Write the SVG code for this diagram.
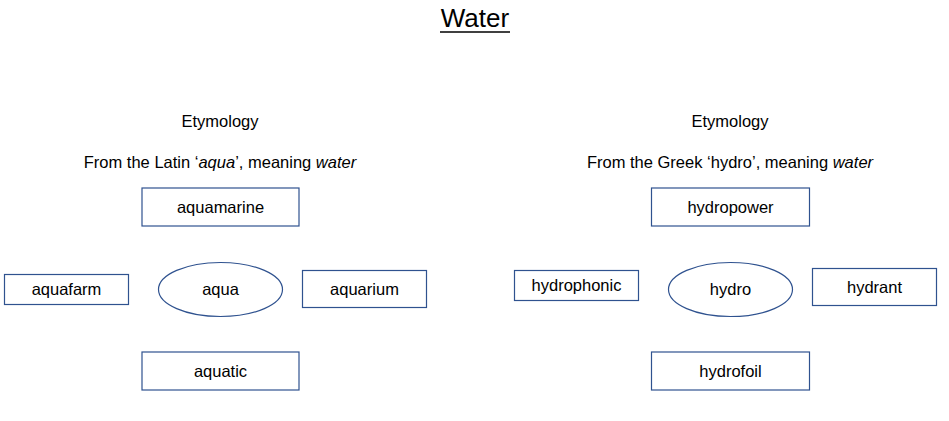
<svg xmlns="http://www.w3.org/2000/svg" width="949" height="421" viewBox="0 0 949 421">
<style>
text{font-family:"Liberation Sans",Arial,sans-serif;fill:#000;text-anchor:middle}
.lbl{font-size:16.5px}
.box{fill:#fff;stroke:#2F528F;stroke-width:1.2}
.title{font-size:26px}
</style>
<rect width="949" height="421" fill="#fff"/>
<g id="title">
<text class="title" x="475" y="27">Water</text>
<line x1="440" y1="32" x2="510" y2="32" stroke="#000" stroke-width="1.5"/>
</g>
<g id="left-heading">
<text class="lbl" x="220" y="127">Etymology</text>
<text class="lbl" x="220" y="168">From the Latin ‘<tspan font-style="italic">aqua</tspan>’, meaning <tspan font-style="italic">water</tspan></text>
</g>
<g id="right-heading">
<text class="lbl" x="730" y="127">Etymology</text>
<text class="lbl" x="730" y="168">From the Greek ‘hydro’, meaning <tspan font-style="italic">water</tspan></text>
</g>
<g id="connectors"></g>
<g id="aqua"><ellipse class="box" cx="220.5" cy="289.5" rx="62" ry="27"/><text class="lbl" x="220.5" y="295">aqua</text></g>
<g id="aquamarine"><rect class="box" x="142" y="188" width="157" height="38"/><text class="lbl" x="220.5" y="213">aquamarine</text></g>
<g id="aquafarm"><rect class="box" x="4.5" y="274.5" width="124" height="30"/><text class="lbl" x="66.5" y="295">aquafarm</text></g>
<g id="aquarium"><rect class="box" x="302.5" y="270.5" width="124" height="37"/><text class="lbl" x="364.5" y="295">aquarium</text></g>
<g id="aquatic"><rect class="box" x="142" y="352" width="157" height="38"/><text class="lbl" x="220.5" y="377">aquatic</text></g>
<g id="hydro"><ellipse class="box" cx="730.5" cy="289.5" rx="62" ry="27"/><text class="lbl" x="730.5" y="295">hydro</text></g>
<g id="hydropower"><rect class="box" x="651.5" y="188" width="158" height="38"/><text class="lbl" x="730.5" y="213">hydropower</text></g>
<g id="hydrophonic"><rect class="box" x="514.5" y="270.5" width="124" height="30"/><text class="lbl" x="576.5" y="291">hydrophonic</text></g>
<g id="hydrant"><rect class="box" x="812.5" y="268.5" width="124" height="37"/><text class="lbl" x="874.5" y="293">hydrant</text></g>
<g id="hydrofoil"><rect class="box" x="651.5" y="352" width="158" height="38"/><text class="lbl" x="730.5" y="377">hydrofoil</text></g>
</svg>
